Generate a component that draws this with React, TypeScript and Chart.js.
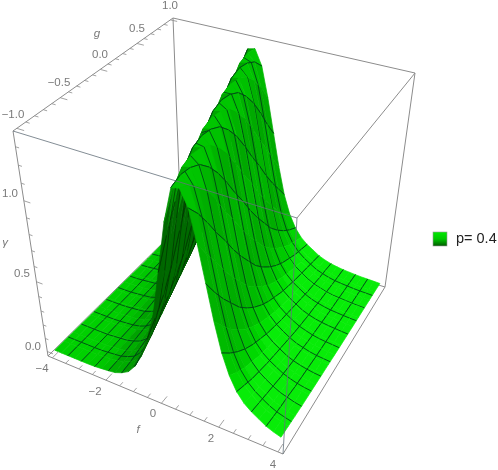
import React, { useEffect, useRef } from "react";
import { Chart, registerables } from "chart.js";

Chart.register(...registerables);

// Values
const fValues = [-4,-3.75,-3.5,-3.25,-3,-2.75,-2.5,-2.25,-2,-1.75,-1.5,-1.25,-1,-0.75,-0.5,-0.25,0,0.25,0.5,0.75,1,1.25,1.5,1.75,2,2.25,2.5,2.75,3,3.25,3.5,3.75,4];
const gValues = [-1,-0.875,-0.75,-0.625,-0.5,-0.375,-0.25,-0.125,0,0.125,0.25,0.375,0.5,0.625,0.75,0.875,1];
const gammaG00 = [0,0,0,0,0,0,.002,.007,.012,.02,.04,.07,.13,.22,.36,.53,.82,1.12,1.32,1.33,1.24,1.06,.85,.64,.46,.33,.24,.18,.14,.11,.08,.06,.045];
const gammaG01 = [0,0,0,0,0,0,.005,.01,.015,.03,.05,.09,.17,.28,.44,.66,.98,1.25,1.34,1.3,1.16,.95,.74,.55,.39,.28,.21,.16,.125,.095,.07,.055,.04];
const gammaG02 = [0,0,0,0,0,.002,.007,.012,.02,.04,.07,.13,.22,.36,.53,.82,1.12,1.32,1.33,1.24,1.06,.85,.64,.46,.33,.24,.18,.14,.11,.08,.06,.045,.035];
const gammaG03 = [0,0,0,0,0,.005,.01,.015,.03,.05,.09,.17,.28,.44,.66,.98,1.25,1.34,1.3,1.16,.95,.74,.55,.39,.28,.21,.16,.125,.095,.07,.055,.04,.03];
const gammaG04 = [0,0,0,0,.002,.007,.012,.02,.04,.07,.13,.22,.36,.53,.82,1.12,1.32,1.33,1.24,1.06,.85,.64,.46,.33,.24,.18,.14,.11,.08,.06,.045,.035,.027];
const gammaG05 = [0,0,0,0,.005,.01,.015,.03,.05,.09,.17,.28,.44,.66,.98,1.25,1.34,1.3,1.16,.95,.74,.55,.39,.28,.21,.16,.125,.095,.07,.055,.04,.03,.025];
const gammaG06 = [0,0,0,.002,.007,.012,.02,.04,.07,.13,.22,.36,.53,.82,1.12,1.32,1.33,1.24,1.06,.85,.64,.46,.33,.24,.18,.14,.11,.08,.06,.045,.035,.027,.022];
const gammaG07 = [0,0,0,.005,.01,.015,.03,.05,.09,.17,.28,.44,.66,.98,1.25,1.34,1.3,1.16,.95,.74,.55,.39,.28,.21,.16,.125,.095,.07,.055,.04,.03,.025,.02];
const gammaG08 = [0,0,.002,.007,.012,.02,.04,.07,.13,.22,.36,.53,.82,1.12,1.32,1.33,1.24,1.06,.85,.64,.46,.33,.24,.18,.14,.11,.08,.06,.045,.035,.027,.022,.017];
const gammaG09 = [0,0,.005,.01,.015,.03,.05,.09,.17,.28,.44,.66,.98,1.25,1.34,1.3,1.16,.95,.74,.55,.39,.28,.21,.16,.125,.095,.07,.055,.04,.03,.025,.02,.015];
const gammaG10 = [0,.002,.007,.012,.02,.04,.07,.13,.22,.36,.53,.82,1.12,1.32,1.33,1.24,1.06,.85,.64,.46,.33,.24,.18,.14,.11,.08,.06,.045,.035,.027,.022,.017,.013];
const gammaG11 = [0,.005,.01,.015,.03,.05,.09,.17,.28,.44,.66,.98,1.25,1.34,1.3,1.16,.95,.74,.55,.39,.28,.21,.16,.125,.095,.07,.055,.04,.03,.025,.02,.015,.012];
const gammaG12 = [.002,.007,.012,.02,.04,.07,.13,.22,.36,.53,.82,1.12,1.32,1.33,1.24,1.06,.85,.64,.46,.33,.24,.18,.14,.11,.08,.06,.045,.035,.027,.022,.017,.013,.011];
const gammaG13 = [.005,.01,.015,.03,.05,.09,.17,.28,.44,.66,.98,1.25,1.34,1.3,1.16,.95,.74,.55,.39,.28,.21,.16,.125,.095,.07,.055,.04,.03,.025,.02,.015,.012,.01];
const gammaG14 = [.007,.012,.02,.04,.07,.13,.22,.36,.53,.82,1.12,1.32,1.33,1.24,1.06,.85,.64,.46,.33,.24,.18,.14,.11,.08,.06,.045,.035,.027,.022,.017,.013,.011,.009];
const gammaG15 = [.01,.015,.03,.05,.09,.17,.28,.44,.66,.98,1.25,1.34,1.3,1.16,.95,.74,.55,.39,.28,.21,.16,.125,.095,.07,.055,.04,.03,.025,.02,.015,.012,.01,.008];
const gammaG16 = [.012,.02,.04,.07,.13,.22,.36,.53,.82,1.12,1.32,1.33,1.24,1.06,.85,.64,.46,.33,.24,.18,.14,.11,.08,.06,.045,.035,.027,.022,.017,.013,.011,.009,.006];
const gammaRows = [gammaG00,gammaG01,gammaG02,gammaG03,gammaG04,gammaG05,gammaG06,gammaG07,gammaG08,gammaG09,gammaG10,gammaG11,gammaG12,gammaG13,gammaG14,gammaG15,gammaG16];

const gMeshLines = [-0.818,-0.636,-0.455,-0.273,-0.091,0.091,0.273,0.455,0.636,0.818];

const fTickLabels = ["\u22124", "\u22122", "0", "2", "4"];
const gTickLabels = ["\u22121.0", "\u22120.5", "0.0", "0.5", "1.0"];
const yTickLabels = ["0.0", "0.5", "1.0"];
const legendLabel = "p= 0.4";

type P = { x: number; y: number };

// box corners on the page
const topC = { a: [13, 131], d: [297, 218], c: [415, 73], b: [173, 18] };
const botC = { a: [48, 356], d: [283, 454], c: [385, 287], b: [181, 225] };

const bil = (q: typeof topC, s: number, v: number) => {
  const x = (1 - s) * (1 - v) * q.a[0] + s * (1 - v) * q.d[0] + s * v * q.c[0] + (1 - s) * v * q.b[0];
  const y = (1 - s) * (1 - v) * q.a[1] + s * (1 - v) * q.d[1] + s * v * q.c[1] + (1 - s) * v * q.b[1];
  return [x, y];
};
// box coordinates (0..1) -> page
const boxPt = (s0: number, v0: number, t: number): P => {
  const s = s0 - 0.07 * s0 * (1 - s0) * (1 - v0);
  const v = v0 + 0.18 * v0 * (1 - v0);
  const B = bil(botC, s, v);
  const T = bil(topC, s, v);
  return { x: B[0] + (T[0] - B[0]) * t, y: B[1] + (T[1] - B[1]) * t };
};
const sOf = (f: number) => 0.02 + (0.96 * (f + 4)) / 8;
const vOf = (g: number) => 0.02 + (0.96 * (g + 1)) / 2;
const tOf = (w: number) => 0.02 + 0.57 * w + 0.1 * w * w;
const proj = (f: number, g: number, w: number) => boxPt(sOf(f), vOf(g), tOf(w));

const GAP = { x: NaN, y: NaN };
const seg = (data: P[], color: string, width: number) => ({
  type: "scatter" as const,
  data,
  showLine: true,
  pointRadius: 0,
  borderColor: color,
  borderWidth: width,
  fill: false,
  tension: 0,
});

const AXIS = "#8c8c8c";
const OVER = "rgba(100,112,122,0.8)";

const at = (j: number, i: number) => {
  const jj = Math.max(0, Math.min(gammaRows.length - 1, j));
  const ii = Math.max(0, Math.min(fValues.length - 1, i));
  return gammaRows[jj][ii];
};

function shade(i: number, j: number, under: boolean) {
  // slopes taken over neighbouring cells so the flat facets do not show
  let dwdf = 0, dwdg = 0;
  for (let r = j - 1; r <= j + 2; r++) dwdf += (at(r, i + 2) - at(r, i - 1)) / 4 / 0.75;
  for (let q = i - 1; q <= i + 2; q++) dwdg += (at(j + 2, q) - at(j - 1, q)) / 4 / 0.375;
  const nx = -dwdf * (8 / 1.4), ny = -dwdg * (2 / 1.4), nz = 1;
  const len = Math.hypot(nx, ny, nz);
  const wAvg = (at(j, i) + at(j, i + 1) + at(j + 1, i) + at(j + 1, i + 1)) / 4;
  if (under) {
    const m = Math.max(0, -nx / len);
    const G = Math.round(95 + 95 * Math.pow(1 - m, 0.7));
    return `rgb(0,${wAvg > 1.15 ? Math.max(G, 150) : G},0)`;
  }
  const l = (nx * 0.5 + ny * -0.25 + nz * 0.83) / len;
  const pos = (fValues[i] + 4) / 8;
  let G = l < 0.6 ? 120 + (l + 0.25) * 70 : 180 + (l - 0.6) * 226;
  if (l >= 0.6) G -= 25 * (1 - pos);
  if (wAvg > 0.9) G = Math.max(165, Math.min(G, 198));
  G = Math.round(Math.max(85, Math.min(236, G)));
  return `rgb(${G > 225 ? 8 : 0},${G},${G > 225 ? 8 : 0})`;
}

function buildDatasets() {
  const list: any[] = [];
  // front lines, drawn last, come first
  list.push(seg([boxPt(0, 0, 1), boxPt(1, 0, 1)], OVER, 1));
  list.push(seg([boxPt(1, 0, 1), boxPt(1, 0, 0)], OVER, 1));
  list.push(seg([boxPt(1, 0, 0), boxPt(1, 1, 0)], AXIS, 1));
  list.push(seg([boxPt(0, 0, 0), boxPt(1, 0, 0)], AXIS, 1));
  list.push(seg([boxPt(0, 0, 0), boxPt(0, 0, 1)], AXIS, 1));
  list.push(seg([boxPt(0, 0, 1), boxPt(0, 1, 1)], AXIS, 1));
  // ticks
  const ticks: P[] = [];
  for (let k = -8; k <= 8; k++) {
    const major = k % 4 === 0;
    const s = sOf(k / 2);
    ticks.push(boxPt(s, 0, 0), boxPt(s, major ? 0.04 : 0.022, 0), GAP);
  }
  for (let k = -10; k <= 10; k++) {
    const major = k % 5 === 0;
    const v = vOf(k / 10);
    ticks.push(boxPt(0, v, 1), boxPt(major ? 0.028 : 0.015, v, 1), GAP);
  }
  for (let k = 0; k <= 13; k++) {
    const major = k % 5 === 0;
    const t = tOf(k / 10);
    ticks.push(boxPt(0, 0, t), boxPt(major ? 0.026 : 0.014, 0, t), GAP);
  }
  list.push(seg(ticks, AXIS, 0.8));

  // surface, nearest first because Chart.js paints the last dataset first
  const flatA = boxPt(0, 0, 0), flatB = boxPt(1, 0, 0), flatC = boxPt(1, 1, 0);
  const area = (a: P, b: P, c: P, d: P) =>
    a.x * b.y - b.x * a.y + b.x * c.y - c.x * b.y + c.x * d.y - d.x * c.y + d.x * a.y - a.x * d.y;
  const flatSign = Math.sign((flatB.x - flatA.x) * (flatC.y - flatA.y) - (flatB.y - flatA.y) * (flatC.x - flatA.x));
  const last = fValues.length - 1;

  for (let j = 0; j < gValues.length - 1; j++) {
    for (let i = last - 1; i >= 0; i--) {
      const g0 = gValues[j], g1 = gValues[j + 1], f0 = fValues[i], f1 = fValues[i + 1];
      const w00 = gammaRows[j][i], w10 = gammaRows[j][i + 1], w11 = gammaRows[j + 1][i + 1], w01 = gammaRows[j + 1][i];
      const p00 = proj(f0, g0, w00);
      const p10 = proj(f1, g0, w10);
      const p11 = proj(f1, g1, w11);
      const p01 = proj(f0, g1, w01);
      const under = Math.sign(area(p00, p10, p11, p01)) !== flatSign;
      const col = shade(i, j, under);
      // mesh lines crossing this quad
      const mesh: P[] = [];
      gMeshLines.forEach((gm) => {
        if (gm >= g0 && gm < g1) {
          const u = (gm - g0) / (g1 - g0);
          mesh.push(proj(f0, gm, w00 + (w01 - w00) * u), proj(f1, gm, w10 + (w11 - w10) * u), GAP);
        }
      });
      if (i % 2 === 0 && i > 0) mesh.push(p00, p01, GAP);
      if ((i + 1) % 2 === 0 && i + 1 < last) mesh.push(p10, p11, GAP);
      if (mesh.length) list.push(seg(mesh, under ? "rgba(0,45,0,0.75)" : "rgba(0,55,25,0.9)", 0.9));
      list.push({ ...seg([p00, p10, p11, p01, p00], col, 0.7), fill: "shape", backgroundColor: col });
    }
  }
  // hidden back lines
  list.push(seg([boxPt(0, 1, 1), boxPt(1, 1, 1)], AXIS, 1));
  list.push(seg([boxPt(1, 0, 1), boxPt(1, 1, 1)], AXIS, 1));
  list.push(seg([boxPt(1, 1, 1), boxPt(1, 1, 0)], AXIS, 1));
  list.push(seg([boxPt(0, 1, 1), boxPt(0, 1, 0)], AXIS, 1));
  list.push(seg([boxPt(0, 0, 0), boxPt(0, 1, 0)], AXIS, 1));
  list.push(seg([boxPt(0, 1, 0), boxPt(1, 1, 0)], AXIS, 1));
  return list;
}

const textPlugin = {
  id: "plotText",
  afterDraw(chart: any) {
    const c = chart.ctx as CanvasRenderingContext2D;
    c.save();
    c.textAlign = "center";
    c.textBaseline = "middle";
    c.fillStyle = "#7a7a7a";
    c.font = '11.5px "Liberation Sans"';
    const fPos = [[42, 369], [95, 392], [153, 414], [211, 439], [273, 465]];
    fTickLabels.forEach((t, i) => c.fillText(t, fPos[i][0], fPos[i][1]));
    const gPos = [[13, 115], [59, 83], [100, 55], [137, 29], [170, 6]];
    gTickLabels.forEach((t, i) => c.fillText(t, gPos[i][0], gPos[i][1]));
    const yPos = [[33, 347], [22, 274], [10, 194]];
    yTickLabels.forEach((t, i) => c.fillText(t, yPos[i][0], yPos[i][1]));
    c.font = 'italic 11.5px "Liberation Sans"';
    c.fillText("f", 138, 430);
    c.fillText("g", 97, 34);
    c.fillText("\u03b3", 5, 243);
    // legend
    const grad = c.createLinearGradient(0, 232, 0, 246);
    grad.addColorStop(0, "#00ea00");
    grad.addColorStop(0.5, "#00c800");
    grad.addColorStop(1, "#005a00");
    c.fillStyle = grad;
    c.fillRect(433, 232, 14, 14);
    c.strokeStyle = "#9a9a9a";
    c.lineWidth = 0.6;
    c.strokeRect(433, 232, 14, 14);
    c.fillStyle = "#222222";
    c.textAlign = "left";
    c.font = '14.5px "Liberation Sans"';
    c.fillText(legendLabel, 456, 239);
    c.restore();
  },
};

export default function App() {
  const ref = useRef<HTMLCanvasElement>(null);
  useEffect(() => {
    document.body.style.margin = "0";
    const chart = new Chart(ref.current!, {
      type: "scatter",
      data: { datasets: buildDatasets() },
      options: {
        animation: false,
        responsive: false,
        events: [],
        layout: { padding: 0 },
        plugins: { legend: { display: false }, tooltip: { enabled: false } },
        scales: {
          x: { type: "linear", min: 0, max: 498, display: false },
          y: { type: "linear", min: 0, max: 470, reverse: true, display: false },
        },
      },
      plugins: [textPlugin],
    } as any);
    return () => chart.destroy();
  }, []);
  return <canvas ref={ref} width={498} height={470} style={{ display: "block", width: 498, height: 470 }} />;
}
